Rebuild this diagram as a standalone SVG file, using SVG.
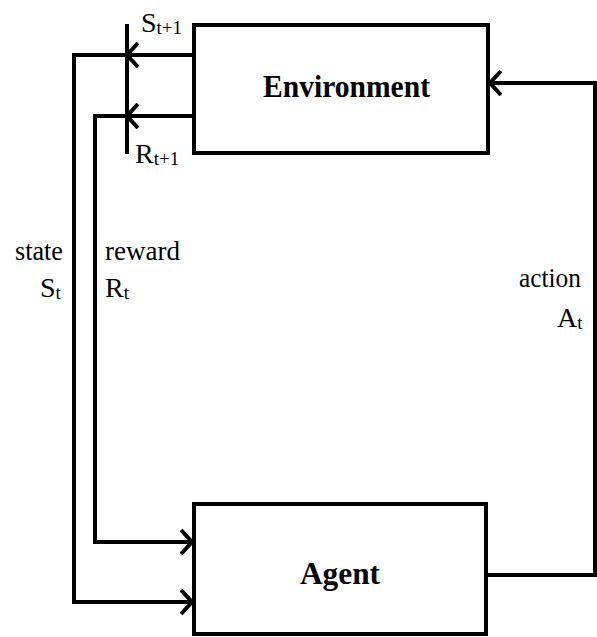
<svg xmlns="http://www.w3.org/2000/svg" width="597" height="637" viewBox="0 0 597 637">
<defs>
<style>
.box{fill:none;stroke:#000;stroke-width:4}
.ln{fill:none;stroke:#000;stroke-width:4;stroke-linejoin:miter}
.lbl{font-family:"Liberation Serif","Times New Roman",serif;font-size:28px;fill:#000}
.sub{font-size:19px}
.title{font-family:"Liberation Serif","Times New Roman",serif;font-size:32px;font-weight:bold;fill:#000}
</style>
<marker id="arr" viewBox="0 0 14 26" refX="12" refY="13" markerWidth="14" markerHeight="26" markerUnits="userSpaceOnUse" orient="auto">
<path d="M1,1 L12,13 L1,25" fill="none" stroke="#000" stroke-width="4"/>
</marker>
</defs>
<g id="environment">
<rect class="box" x="194" y="25" width="294" height="128"/>
<text class="title" x="263" y="97" textLength="167" lengthAdjust="spacingAndGlyphs">Environment</text>
</g>
<g id="agent">
<rect class="box" x="194" y="504" width="292" height="130"/>
<text class="title" x="300" y="584" textLength="80" lengthAdjust="spacingAndGlyphs">Agent</text>
</g>
<g id="connectors">
<line class="ln" x1="127" y1="24" x2="127" y2="154"/>
<line class="ln" x1="194" y1="55" x2="127" y2="55" marker-end="url(#arr)"/>
<line class="ln" x1="194" y1="116" x2="127" y2="116" marker-end="url(#arr)"/>
<polyline class="ln" points="127,55 74,55 74,602 192,602" marker-end="url(#arr)"/>
<polyline class="ln" points="127,116 95,116 95,542 192,542" marker-end="url(#arr)"/>
<polyline class="ln" points="486,575 595,575 595,83 490,83" marker-end="url(#arr)"/>
</g>
<g id="labels">
<text class="lbl" x="141" y="32">S<tspan class="sub" dy="2">t+1</tspan></text>
<text class="lbl" x="135" y="163">R<tspan class="sub" dy="2">t+1</tspan></text>
<text class="lbl" x="15" y="260" textLength="48" lengthAdjust="spacingAndGlyphs">state</text>
<text class="lbl" x="40" y="297">S<tspan class="sub" dy="2">t</tspan></text>
<text class="lbl" x="105" y="260" textLength="75" lengthAdjust="spacingAndGlyphs">reward</text>
<text class="lbl" x="105" y="297">R<tspan class="sub" dy="2">t</tspan></text>
<text class="lbl" x="519" y="287" textLength="62" lengthAdjust="spacingAndGlyphs">action</text>
<text class="lbl" x="557" y="327">A<tspan class="sub" dy="2">t</tspan></text>
</g>
</svg>
